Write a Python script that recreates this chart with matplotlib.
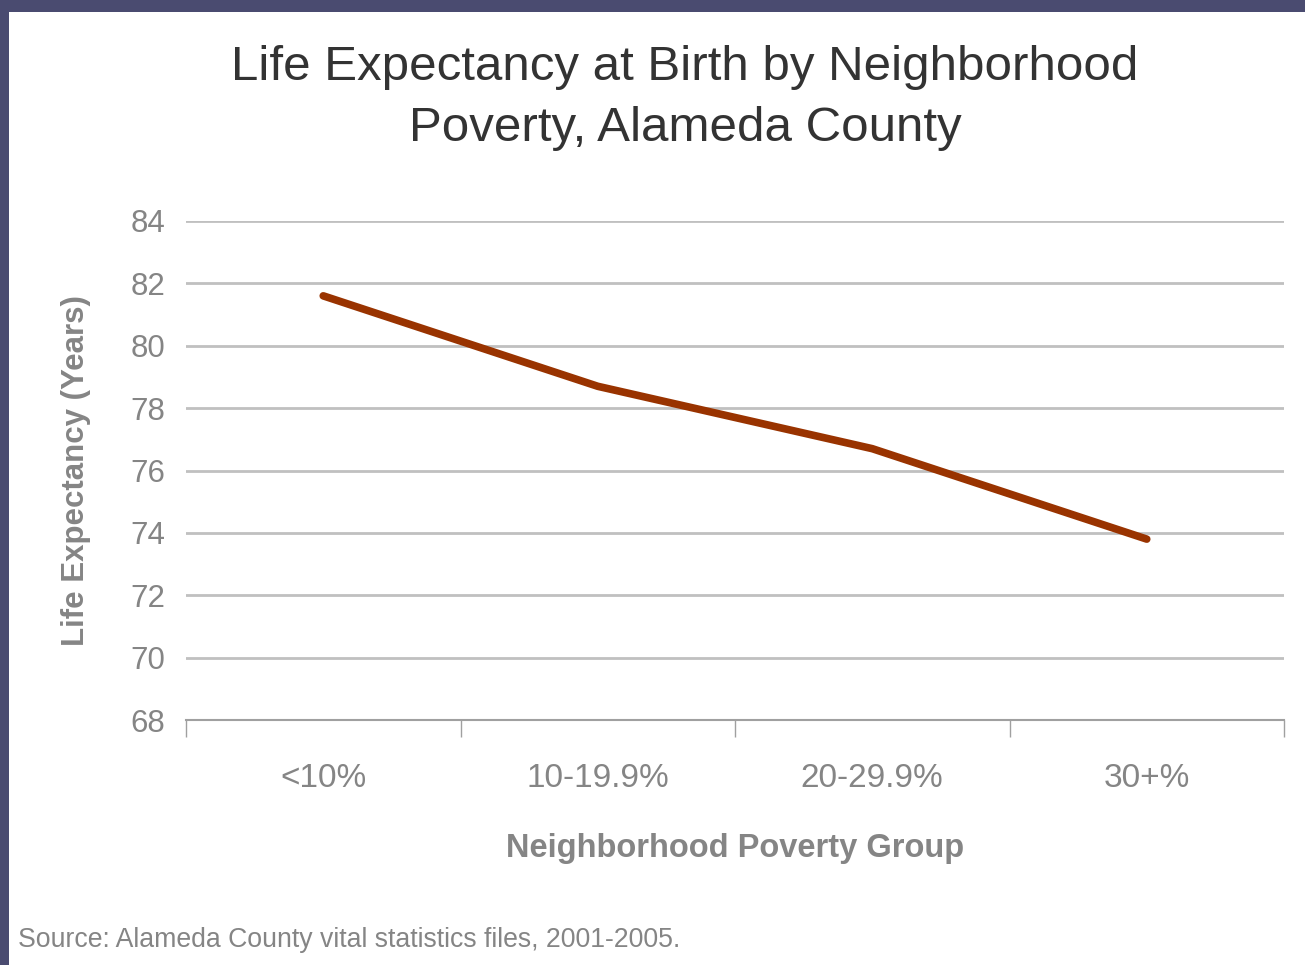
import matplotlib.pyplot as plt
from matplotlib.patches import Rectangle

# データ
groups = ['<10%', '10-19.9%', '20-29.9%', '30+%']
life_exp = [81.6, 78.7, 76.7, 73.8]
yticks = [68, 70, 72, 74, 76, 78, 80, 82, 84]

narrow = ['Liberation Sans Narrow', 'Liberation Sans', 'DejaVu Sans']
gray = '#858585'

W, H = 1305, 965
fig = plt.figure(figsize=(W / 100, H / 100), dpi=100)
fig.patch.set_facecolor('#4a4b70')

# 白いパネル
fig.patches.append(Rectangle((9 / W, 0), 1, 1 - 12 / H, transform=fig.transFigure,
                             facecolor='white', edgecolor='none', zorder=-10))

ax = fig.add_axes([186 / W, 245 / H, (1284 - 186) / W, 499 / H])
ax.set_facecolor('white')

x = list(range(len(groups)))
ax.plot(x, life_exp, color='#993300', lw=5.5, solid_capstyle='round', zorder=3)

ax.set_xlim(-0.5, len(groups) - 0.5)
ax.set_ylim(68, 84)
ax.set_yticks(yticks)
ax.set_yticklabels([str(v) for v in yticks], family=narrow, fontsize=22.5, color=gray)
ax.yaxis.grid(True, color='#c0c0c0', lw=2)
ax.set_axisbelow(True)
ax.tick_params(axis='y', length=0, pad=15)

# x軸: 境界に目盛り、ラベルは中央
ax.set_xticks([i - 0.5 for i in range(len(groups) + 1)])
ax.set_xticklabels([])
ax.set_xticks(x, minor=True)
ax.set_xticklabels(groups, minor=True, family=narrow, fontsize=24, color=gray)
ax.tick_params(axis='x', which='major', length=12, color='#a0a0a0', width=1)
ax.tick_params(axis='x', which='minor', length=0, pad=31)

for s in ['top', 'right', 'left']:
    ax.spines[s].set_visible(False)
ax.spines['bottom'].set_color('#a0a0a0')
ax.spines['bottom'].set_linewidth(1.5)

ax.set_xlabel('Neighborhood Poverty Group', fontsize=23.5, fontweight='bold',
              color=gray, family='Liberation Sans', labelpad=28)
ax.set_ylabel('Life Expectancy (Years)', fontsize=22.5, fontweight='bold',
              color=gray, family='Liberation Sans', labelpad=28)

fig.text(685 / W, 1 - 98 / H, 'Life Expectancy at Birth by Neighborhood\nPoverty, Alameda County',
         ha='center', va='center', fontsize=35.5, color='#333333',
         family='Liberation Sans', linespacing=1.45)

fig.text(18 / W, 1 - 940 / H, 'Source: Alameda County vital statistics files, 2001-2005.',
         ha='left', va='center', fontsize=19.2, color=gray, family=narrow)

fig.savefig('out.png', dpi=100, facecolor=fig.get_facecolor())
